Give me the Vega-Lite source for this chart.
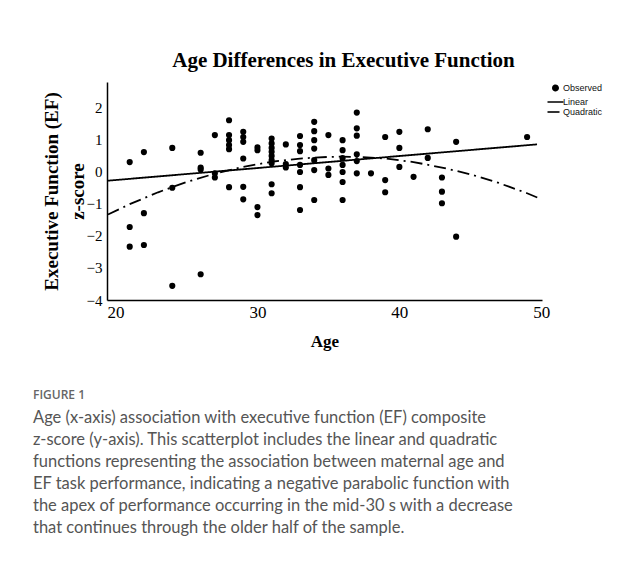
{
  "$schema": "https://vega.github.io/schema/vega-lite/v6.json",
  "autosize": {"type": "none"},
  "width": 435,
  "height": 218,
  "padding": {"left": 107, "top": 82, "right": 101, "bottom": 268},
  "background": "white",
  "datasets": {
    "observed": [
      {"age": 21, "ef": 0.29}, {"age": 21, "ef": -1.73}, {"age": 21, "ef": -2.34},
      {"age": 22, "ef": 0.60}, {"age": 22, "ef": -1.30}, {"age": 22, "ef": -2.29},
      {"age": 24, "ef": 0.73}, {"age": 24, "ef": -0.51}, {"age": 24, "ef": -3.56},
      {"age": 26, "ef": 0.58}, {"age": 26, "ef": 0.12}, {"age": 26, "ef": 0.06}, {"age": 26, "ef": -3.20},
      {"age": 27, "ef": 1.13}, {"age": 27, "ef": -0.06}, {"age": 27, "ef": -0.19},
      {"age": 28, "ef": 1.59}, {"age": 28, "ef": 1.13}, {"age": 28, "ef": 0.97}, {"age": 28, "ef": 0.82}, {"age": 28, "ef": 0.69}, {"age": 28, "ef": -0.49},
      {"age": 29, "ef": 1.23}, {"age": 29, "ef": 1.07}, {"age": 29, "ef": 0.92}, {"age": 29, "ef": 0.40}, {"age": 29, "ef": -0.48}, {"age": 29, "ef": -0.87},
      {"age": 30, "ef": 0.75}, {"age": 30, "ef": 0.66}, {"age": 30, "ef": -1.11}, {"age": 30, "ef": -1.36},
      {"age": 31, "ef": 1.02}, {"age": 31, "ef": 0.87}, {"age": 31, "ef": 0.73}, {"age": 31, "ef": 0.61}, {"age": 31, "ef": 0.48}, {"age": 31, "ef": 0.35}, {"age": 31, "ef": 0.25}, {"age": 31, "ef": -0.40}, {"age": 31, "ef": -0.68},
      {"age": 32, "ef": 0.84}, {"age": 32, "ef": 0.23}, {"age": 32, "ef": 0.12},
      {"age": 33, "ef": 1.10}, {"age": 33, "ef": 0.82}, {"age": 33, "ef": 0.63}, {"age": 33, "ef": 0.20}, {"age": 33, "ef": -0.02}, {"age": 33, "ef": -0.49}, {"age": 33, "ef": -1.20},
      {"age": 34, "ef": 1.54}, {"age": 34, "ef": 1.25}, {"age": 34, "ef": 0.97}, {"age": 34, "ef": 0.71}, {"age": 34, "ef": 0.35}, {"age": 34, "ef": 0.04}, {"age": 34, "ef": -0.89},
      {"age": 35, "ef": 1.13}, {"age": 35, "ef": 0.09}, {"age": 35, "ef": -0.11},
      {"age": 36, "ef": 0.97}, {"age": 36, "ef": 0.66}, {"age": 36, "ef": 0.41}, {"age": 36, "ef": 0.20}, {"age": 36, "ef": -0.02}, {"age": 36, "ef": -0.33}, {"age": 36, "ef": -0.89},
      {"age": 37, "ef": 1.83}, {"age": 37, "ef": 1.34}, {"age": 37, "ef": 1.11}, {"age": 37, "ef": 0.53}, {"age": 37, "ef": 0.32}, {"age": 37, "ef": -0.06},
      {"age": 38, "ef": -0.06},
      {"age": 39, "ef": 1.07}, {"age": 39, "ef": -0.27}, {"age": 39, "ef": -0.65},
      {"age": 40, "ef": 1.23}, {"age": 40, "ef": 0.73}, {"age": 40, "ef": 0.14},
      {"age": 41, "ef": -0.17},
      {"age": 42, "ef": 1.31}, {"age": 42, "ef": 0.42},
      {"age": 43, "ef": -0.19}, {"age": 43, "ef": -0.63}, {"age": 43, "ef": -0.99},
      {"age": 44, "ef": 0.92}, {"age": 44, "ef": -2.03},
      {"age": 49, "ef": 1.07}
    ],
    "fits": [
      {"fit": "Linear", "age": 19.44, "ef": -0.29},
      {"fit": "Linear", "age": 49.7, "ef": 0.84},
      {"fit": "Quadratic", "age": 19.47, "ef": -1.34},
      {"fit": "Quadratic", "age": 21, "ef": -1.02},
      {"fit": "Quadratic", "age": 23, "ef": -0.65},
      {"fit": "Quadratic", "age": 25, "ef": -0.33},
      {"fit": "Quadratic", "age": 27, "ef": -0.07},
      {"fit": "Quadratic", "age": 29, "ef": 0.14},
      {"fit": "Quadratic", "age": 31, "ef": 0.30},
      {"fit": "Quadratic", "age": 33, "ef": 0.40},
      {"fit": "Quadratic", "age": 35, "ef": 0.45},
      {"fit": "Quadratic", "age": 35.9, "ef": 0.46},
      {"fit": "Quadratic", "age": 37, "ef": 0.45},
      {"fit": "Quadratic", "age": 39, "ef": 0.40},
      {"fit": "Quadratic", "age": 41, "ef": 0.29},
      {"fit": "Quadratic", "age": 43, "ef": 0.12},
      {"fit": "Quadratic", "age": 45, "ef": -0.09},
      {"fit": "Quadratic", "age": 47, "ef": -0.36},
      {"fit": "Quadratic", "age": 49, "ef": -0.68},
      {"fit": "Quadratic", "age": 50.03, "ef": -0.87}
    ]
  },
  "title": {
    "text": "FIGURE 1",
    "subtitle": [
      "Age (x-axis) association with executive function (EF) composite",
      "z-score (y-axis). This scatterplot includes the linear and quadratic",
      "functions representing the association between maternal age and",
      "EF task performance, indicating a negative parabolic function with",
      "the apex of performance occurring in the mid-30 s with a decrease",
      "that continues through the older half of the sample."
    ],
    "orient": "bottom",
    "anchor": "start",
    "frame": "group",
    "offset": 41,
    "dx": -74,
    "font": "Open Sans",
    "fontSize": 12,
    "fontWeight": 600,
    "color": "#666666",
    "subtitleFont": "Lato",
    "subtitleFontSize": 16.5,
    "subtitleColor": "#555555",
    "subtitleLineHeight": 22,
    "subtitlePadding": 8
  },
  "layer": [
    {
      "data": {"name": "observed"},
      "mark": {"type": "point", "filled": true, "color": "black", "opacity": 1, "size": 38},
      "encoding": {
        "x": {
          "field": "age", "type": "quantitative",
          "scale": {"domain": [19.4, 50.05], "nice": false, "zero": false},
          "axis": {"title": "Age", "values": [20, 30, 40, 50]}
        },
        "y": {
          "field": "ef", "type": "quantitative",
          "scale": {"domain": [-4, 2.78], "nice": false, "zero": false},
          "axis": {"title": ["Executive Function (EF)", "z-score"], "values": [-4, -3, -2, -1, 0, 1, 2]}
        }
      }
    },
    {
      "data": {"name": "fits"},
      "mark": {"type": "line", "color": "black", "strokeWidth": 1.8},
      "encoding": {
        "x": {
          "field": "age", "type": "quantitative",
          "scale": {"domain": [19.4, 50.05], "nice": false, "zero": false},
          "axis": {
            "orient": "top",
            "title": "Age Differences in Executive Function",
            "labels": false, "ticks": false, "domain": false, "grid": false,
            "titleFont": "Liberation Serif", "titleFontSize": 21, "titleFontWeight": "bold",
            "titleColor": "black", "titlePadding": 12, "titleX": 236
          }
        },
        "y": {
          "field": "ef", "type": "quantitative",
          "scale": {"domain": [-4, 2.78], "nice": false, "zero": false},
          "axis": {"title": ["Executive Function (EF)", "z-score"], "values": [-4, -3, -2, -1, 0, 1, 2]}
        },
        "strokeDash": {
          "field": "fit", "type": "nominal",
          "scale": {"domain": ["Observed", "Linear", "Quadratic"], "range": [[1, 0], [1, 0], [12, 5, 2, 5]]},
          "legend": {
            "orient": "none",
            "legendX": 444,
            "legendY": 1.5,
            "title": null,
            "padding": 0,
            "labelFont": "Liberation Sans",
            "labelFontSize": 9,
            "labelColor": "#111111",
            "labelOffset": 3,
            "symbolType": "stroke",
            "symbolSize": 256,
            "symbolStrokeColor": "black",
            "symbolStrokeWidth": 1.6,
            "rowPadding": -7,
            "encode": {
              "symbols": {
                "update": {
                  "shape": {"signal": "datum.value === 'Observed' ? 'circle' : 'stroke'"},
                  "size": {"signal": "datum.value === 'Observed' ? 12.25 : 256"},
                  "strokeWidth": {"signal": "datum.value === 'Observed' ? 3.5 : 1.6"},
                  "fill": {"signal": "datum.value === 'Observed' ? '#000000' : 'transparent'"},
                  "strokeDash": {"signal": "datum.value === 'Quadratic' ? [10, 2, 1.5, 20] : [1, 0]"},
                  "stroke": {"value": "#000000"},
                  "opacity": {"value": 1}
                }
              }
            }
          }
        }
      }
    }
  ],
  "resolve": {"axis": {"x": "independent"}},
  "config": {
    "view": {"stroke": null},
    "axis": {
      "grid": false, "ticks": false, "domainColor": "black", "domainWidth": 1.5,
      "labelFont": "Liberation Serif", "labelColor": "black", "labelFlush": false,
      "titleFont": "Liberation Serif", "titleFontWeight": "bold", "titleColor": "black"
    },
    "axisX": {"labelFontSize": 17, "labelPadding": 4, "titleFontSize": 17, "titlePadding": 13},
    "axisY": {"labelFontSize": 15, "labelPadding": 5, "titleFontSize": 19, "titleLineHeight": 26, "titlePadding": -1}
  }
}
